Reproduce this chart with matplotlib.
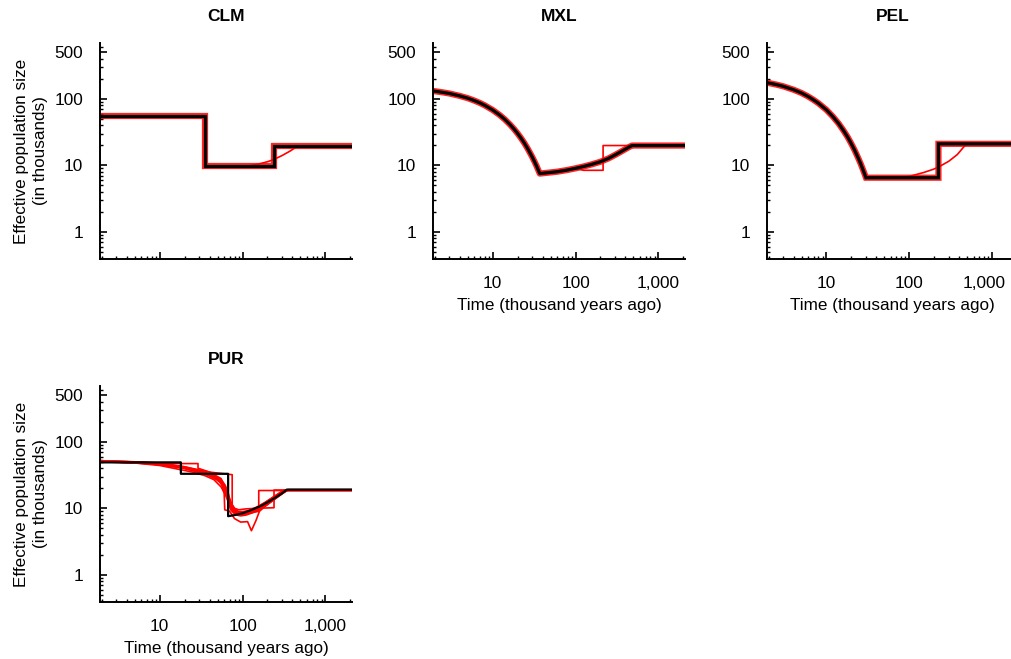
import matplotlib
matplotlib.use("Agg")
from matplotlib import pyplot as plt
from matplotlib.ticker import NullFormatter, LogLocator
from matplotlib.transforms import ScaledTranslation

plt.rcParams['font.family'] = ['Liberation Sans', 'DejaVu Sans']

# CLM - simulirani model (crna) in ocene (rdeca)
clm_t = [1.9, 35, 35, 240, 240, 3000]
clm_n = [55, 55, 9.7, 9.7, 19.2, 19.2]
clm_red_t = [1.9, 35, 35, 60, 115, 150, 200, 238, 300, 380, 455, 3000]
clm_red_n = [55, 55, 9.3, 9.5, 9.7, 10.3, 11.3, 12.2, 14.0, 16.5, 19.2, 19.2]

# MXL
mxl_t = [1.9, 2.5, 3, 4, 5, 6, 7, 8, 10, 12, 14, 16, 18, 20, 22, 24, 26, 28, 30, 32, 34, 36, 37,
         45, 60, 80, 100, 130, 160, 200, 250, 300, 350, 400, 450, 480, 3000]
mxl_n = [131, 124.7, 120, 110.4, 102, 93.8, 86.5, 79.7, 67.7, 57.5, 48.9, 41.5, 35.3, 30, 25.5, 21.7,
         18.4, 15.6, 13.3, 11.3, 9.6, 8.1, 7.5,
         7.7, 8.0, 8.5, 9.0, 9.7, 10.4, 11.3, 12.7, 14.3, 15.9, 17.5, 19.0, 19.8, 19.8]
mxl_red_t = [37, 60, 80, 100, 125, 215, 215, 480, 3000]
mxl_red_n = [7.5, 8.0, 8.5, 9.0, 8.4, 8.4, 19.8, 19.8, 19.8]

# PEL
pel_t = [1.9, 2.5, 3, 4, 5, 6, 7, 8, 10, 12, 14, 16, 18, 20, 22, 24, 26, 28, 30, 225, 225, 3000]
pel_n = [175, 163, 154, 136.8, 122, 108.3, 96, 85.6, 68, 53.6, 42.5, 33.5, 26.6, 21, 16.6, 13.1,
         10.4, 8.2, 6.5, 6.5, 21, 21]
pel_red_t = [80, 100, 150, 200, 225, 300, 380, 489, 3000]
pel_red_n = [6.5, 6.8, 7.8, 8.8, 9.4, 11.5, 14.5, 21, 21]

# PUR
pur_t = [1.9, 18, 18, 67, 67, 80, 100, 130, 170, 200, 250, 300, 343, 3000]
pur_n = [49, 49, 33, 33, 7.6, 7.9, 8.4, 9.5, 11, 12.3, 14.5, 16.8, 19.1, 19.1]

pur_rep_t = [
    [1.9, 5, 10, 18, 25, 35, 45, 55, 62, 68, 72, 78, 85, 95, 110, 130, 160, 200, 250, 300, 340, 3000],
    [1.9, 5, 10, 18, 25, 35, 45, 55, 62, 68, 72, 78, 85, 95, 110, 130, 160, 200, 250, 300, 340, 3000],
    [1.9, 5, 10, 18, 25, 35, 45, 55, 62, 68, 72, 78, 85, 95, 110, 130, 160, 200, 250, 300, 340, 3000],
    [1.9, 10, 18, 18, 29, 29, 40, 55, 62, 68, 75, 85, 100, 130, 160, 200, 260, 330, 3000],
    [1.9, 10, 20, 30, 45, 55, 60, 61, 70, 80, 95, 115, 128, 145, 160, 200, 250, 330, 3000],
    [1.9, 10, 20, 35, 50, 60, 68, 75, 85, 100, 130, 157, 157, 3000],
    [1.9, 10, 20, 35, 50, 62, 70, 80, 90, 110, 150, 240, 240, 3000],
    [1.9, 10, 20, 40, 60, 75, 75, 95, 120, 160, 220, 300, 360, 3000],
    [1.9, 5, 10, 20, 30, 40, 52, 60, 66, 72, 80, 90, 105, 130, 170, 220, 280, 350, 3000],
    [1.9, 6, 12, 20, 30, 40, 50, 58, 64, 70, 76, 84, 95, 115, 140, 180, 230, 300, 360, 3000],
    [1.9, 8, 15, 25, 35, 45, 55, 63, 70, 78, 88, 100, 120, 150, 190, 240, 310, 3000],
]
pur_rep_n = [
    [51, 49, 46, 41, 37, 33, 29, 24, 19, 14, 11, 9.0, 8.3, 8.0, 8.2, 8.8, 10, 11.8, 14.5, 17, 18.8, 18.8],
    [52, 50, 47, 42, 38, 34, 31, 27, 22, 16, 12, 9.8, 8.8, 8.5, 8.6, 9.2, 10.4, 12.2, 15, 17.5, 19, 19],
    [50, 48, 44, 38, 35, 31, 27, 21, 16, 12, 9.5, 8.5, 7.9, 7.7, 7.9, 8.5, 9.6, 11.3, 14, 16.5, 18.6, 18.6],
    [52, 48, 47, 47, 47, 40, 35, 28, 21, 14, 10, 8.6, 8.3, 9.0, 10.2, 12, 15, 18.8, 18.8],
    [51, 46, 40, 35, 30, 25, 17, 9.5, 9.0, 7.0, 6.2, 6.3, 4.6, 6.5, 9.0, 11.5, 14.5, 18.5, 18.5],
    [50, 47, 40, 33, 27, 21, 15, 11, 9.0, 8.4, 8.6, 9.0, 18.5, 18.5],
    [51, 46, 41, 34, 28, 20, 13, 10, 9.5, 9.8, 10, 10.2, 18.8, 18.8],
    [52, 48, 42, 35, 33, 32, 9.5, 8.5, 8.5, 9.8, 12.5, 16.5, 19, 19],
    [50, 49, 45, 40, 36, 31, 26, 20, 14, 10, 8.8, 8.2, 8.3, 9.0, 10.8, 13, 16, 18.8, 18.8],
    [51, 49, 46, 42, 37, 33, 28, 23, 17, 12, 9.8, 8.9, 8.6, 8.8, 9.8, 11.8, 14.5, 17.8, 19, 19],
    [52, 47, 43, 38, 34, 30, 25, 19, 13, 10, 9.0, 8.9, 9.3, 10.5, 12.4, 15, 18.6, 18.6],
]

x_ticks = [10, 100, 1000]
x_tick_labels = ["10", "100", "1,000"]
y_ticks = [1, 10, 100, 500]
y_tick_labels = ["1", "10", "100", "500"]


def pripravi_os(ax, naslov, ylabel=True, xlabel=True, xtick_labels=True):
    ax.set_xscale("log")
    ax.set_yscale("log")
    ax.set_xlim(1.9, 2100)
    ax.set_ylim(0.39, 690)
    ax.set_xticks(x_ticks)
    ax.set_xticklabels(x_tick_labels if xtick_labels else [])
    ax.set_yticks(y_ticks)
    ax.set_yticklabels(y_tick_labels)
    ax.xaxis.set_minor_locator(LogLocator(base=10, subs=range(2, 10), numticks=20))
    ax.yaxis.set_minor_locator(LogLocator(base=10, subs=range(2, 10), numticks=20))
    ax.xaxis.set_minor_formatter(NullFormatter())
    ax.yaxis.set_minor_formatter(NullFormatter())
    ax.tick_params(which="major", direction="in", length=5, width=1.2, labelsize=12.4, pad=12)
    ax.tick_params(which="minor", direction="in", length=2.5, width=1.0)
    ax.spines["top"].set_visible(False)
    ax.spines["right"].set_visible(False)
    ax.spines["left"].set_linewidth(1.4)
    ax.spines["bottom"].set_linewidth(1.4)
    ax.set_title(naslov, fontsize=12.5, fontweight="bold", pad=16)
    if ylabel:
        ax.set_ylabel("Effective population size\n(in thousands)", fontsize=12.3, labelpad=5,
                      linespacing=1.3)
    if xlabel:
        ax.set_xlabel("Time (thousand years ago)", fontsize=12.3, labelpad=5)


fig = plt.figure(figsize=(10.11, 6.59), dpi=100)
w, h = 0.2493, 0.3278

ax1 = fig.add_axes([0.0989, 0.607, w, h])
ax1.plot(clm_t, clm_n, color="red", lw=4.5, alpha=0.85, solid_joinstyle="miter")
ax1.plot(clm_red_t, clm_red_n, color="red", lw=1.2)
ax1.plot(clm_t, clm_n, color="black", lw=2.3, solid_joinstyle="miter")
pripravi_os(ax1, "CLM", ylabel=True, xlabel=False, xtick_labels=False)

ax2 = fig.add_axes([0.4283, 0.607, w, h])
ax2.plot(mxl_t, mxl_n, color="red", lw=4.5, alpha=0.85)
ax2.plot(mxl_red_t, mxl_red_n, color="red", lw=1.2)
ax2.plot(mxl_t, mxl_n, color="black", lw=2.3)
pripravi_os(ax2, "MXL", ylabel=False)

ax3 = fig.add_axes([0.7584, 0.607, w, h])
ax3.plot(pel_t, pel_n, color="red", lw=4.5, alpha=0.85, solid_joinstyle="miter")
ax3.plot(pel_red_t, pel_red_n, color="red", lw=1.2)
ax3.plot(pel_t, pel_n, color="black", lw=2.3, solid_joinstyle="miter")
pripravi_os(ax3, "PEL", ylabel=False)
# zadnja oznaka je ob robu slike, malo jo premaknemo levo
zadnja = ax3.get_xticklabels()[-1]
zadnja.set_transform(zadnja.get_transform() + ScaledTranslation(-6 / 72, 0, fig.dpi_scale_trans))

ax4 = fig.add_axes([0.0989, 0.0865, w, h])
for t, n in zip(pur_rep_t, pur_rep_n):
    ax4.plot(t, n, color="red", lw=1.2)
ax4.plot(pur_t, pur_n, color="black", lw=1.6)
pripravi_os(ax4, "PUR")

plt.savefig("out.png", dpi=100)
